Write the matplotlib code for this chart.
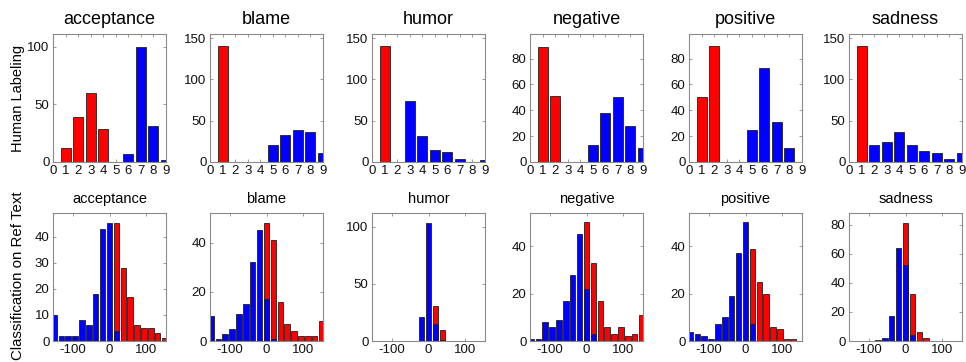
import numpy as np
import matplotlib
matplotlib.use("Agg")
import matplotlib.pyplot as plt

plt.rcParams['font.family'] = ['Liberation Sans', 'DejaVu Sans']
plt.rcParams['axes.unicode_minus'] = False

emotions = ["acceptance", "blame", "humor", "negative", "positive", "sadness"]

# ---- top row: human labeling (scores 1..9) ----
scores = [1, 2, 3, 4, 5, 6, 7, 8, 9]
human_red = {
    "acceptance": [12, 39, 60, 29, 0, 0, 0, 0, 0],
    "blame":      [140, 0, 0, 0, 0, 0, 0, 0, 0],
    "humor":      [140, 0, 0, 0, 0, 0, 0, 0, 0],
    "negative":   [89, 51, 0, 0, 0, 0, 0, 0, 0],
    "positive":   [50, 90, 0, 0, 0, 0, 0, 0, 0],
    "sadness":    [140, 0, 0, 0, 0, 0, 0, 0, 0],
}
human_blue = {
    "acceptance": [0, 0, 0, 0, 0, 7, 100, 31, 2],
    "blame":      [0, 0, 0, 0, 21, 33, 39, 36, 11],
    "humor":      [0, 0, 74, 32, 15, 12, 4, 0, 3],
    "negative":   [0, 0, 0, 0, 13, 38, 50, 28, 11],
    "positive":   [0, 0, 0, 0, 25, 73, 31, 11, 0],
    "sadness":    [0, 20, 24, 36, 21, 13, 11, 4, 11],
}
top_ylim = {"acceptance": 111, "blame": 155, "humor": 155,
            "negative": 99, "positive": 99, "sadness": 155}
top_yticks = {"acceptance": [0, 50, 100], "blame": [0, 50, 100, 150],
              "humor": [0, 50, 100, 150], "negative": [0, 20, 40, 60, 80],
              "positive": [0, 20, 40, 60, 80], "sadness": [0, 50, 100, 150]}

# ---- bottom row: classification on reference text (histogram bins) ----
bin_centers = np.linspace(-150, 150, 17)
cls_blue = {
    "acceptance": [10, 2, 2, 2, 8, 6, 18, 43, 45, 4, 0, 0, 0, 0, 0, 0, 0],
    "blame":      [10, 1, 3, 5, 11, 15, 32, 45, 17, 1, 0, 0, 0, 0, 0, 0, 0],
    "humor":      [0, 0, 0, 0, 0, 0, 0, 21, 103, 15, 1, 0, 0, 0, 0, 0, 0],
    "negative":   [1, 1, 8, 6, 9, 17, 28, 45, 22, 3, 0, 0, 0, 0, 0, 0, 0],
    "positive":   [4, 3, 2, 1, 7, 10, 19, 37, 50, 7, 0, 0, 0, 0, 0, 0, 0],
    "sadness":    [0, 0, 0, 0, 1, 2, 17, 64, 52, 4, 0, 0, 0, 0, 0, 0, 0],
}
cls_red = {
    "acceptance": [0, 0, 0, 0, 0, 0, 0, 0, 0, 45, 28, 17, 6, 5, 5, 3, 1],
    "blame":      [0, 0, 0, 0, 0, 0, 0, 0, 48, 41, 16, 7, 4, 2, 2, 2, 8],
    "humor":      [0, 0, 0, 0, 0, 0, 0, 0, 0, 31, 10, 0, 0, 0, 0, 0, 0],
    "negative":   [0, 0, 0, 0, 0, 0, 0, 0, 50, 33, 17, 6, 3, 6, 2, 3, 11],
    "positive":   [0, 0, 0, 0, 0, 0, 0, 0, 0, 39, 25, 20, 6, 5, 1, 1, 0],
    "sadness":    [0, 0, 0, 0, 0, 0, 0, 0, 81, 32, 6, 2, 0, 0, 0, 0, 0],
}
bot_ylim = {"acceptance": 49, "blame": 52, "humor": 112,
            "negative": 54, "positive": 54, "sadness": 88}
bot_yticks = {"acceptance": [0, 10, 20, 30, 40], "blame": [0, 20, 40],
              "humor": [0, 50, 100], "negative": [0, 20, 40],
              "positive": [0, 20, 40], "sadness": [0, 20, 40, 60, 80]}

RED = "#ff0000"
BLUE = "#0000ff"
EDGE = "#202020"
SPINE = "#8a8a8a"

W, H = 966, 362
fig = plt.figure(figsize=(W / 100, H / 100), dpi=100)

lefts = [53, 210, 372, 530, 689, 849]
aw = 113
top_row = (34, 162)
bot_row = (213, 341)


def make_ax(x0, row):
    t, b = row
    return fig.add_axes([x0 / W, (H - b) / H, aw / W, (b - t) / H])


def style(ax):
    for s in ax.spines.values():
        s.set_color(SPINE)
        s.set_linewidth(0.8)
    ax.tick_params(direction="in", length=2.5, width=0.6, color=SPINE,
                   top=True, right=True, labelsize=9.5, pad=2.5,
                   labelcolor="#111111")


def draw_bars(ax, xs, vals, color, width):
    xs = np.asarray(xs, dtype=float)
    vals = np.asarray(vals, dtype=float)
    m = vals > 0
    ax.bar(xs[m], vals[m], width=width, color=color, edgecolor=EDGE,
           linewidth=0.6, zorder=2)


for i, emo in enumerate(emotions):
    ax = make_ax(lefts[i], top_row)
    draw_bars(ax, scores, human_red[emo], RED, 0.8)
    draw_bars(ax, scores, human_blue[emo], BLUE, 0.8)
    ax.set_xlim(0, 9)
    ax.set_ylim(0, top_ylim[emo])
    ax.set_xticks(range(0, 10))
    ax.set_yticks(top_yticks[emo])
    style(ax)
    ax.set_title(emo, fontsize=13, pad=7)

    ax2 = make_ax(lefts[i], bot_row)
    bw = (bin_centers[1] - bin_centers[0]) * 0.8
    draw_bars(ax2, bin_centers, cls_red[emo], RED, bw)
    draw_bars(ax2, bin_centers, cls_blue[emo], BLUE, bw)
    ax2.set_xlim(-154, 154)
    ax2.set_ylim(0, bot_ylim[emo])
    ax2.set_xticks([-100, 0, 100])
    ax2.set_yticks(bot_yticks[emo])
    style(ax2)
    ax2.set_title(emo, fontsize=10.5, pad=7)

fig.text(18 / W, (H - 98) / H, "Human Labeling", rotation=90,
         ha="center", va="center", fontsize=10.5)
fig.text(18 / W, (H - 276) / H, "Classification on Ref Text", rotation=90,
         ha="center", va="center", fontsize=10.8)

fig.savefig("out.png", dpi=100)
